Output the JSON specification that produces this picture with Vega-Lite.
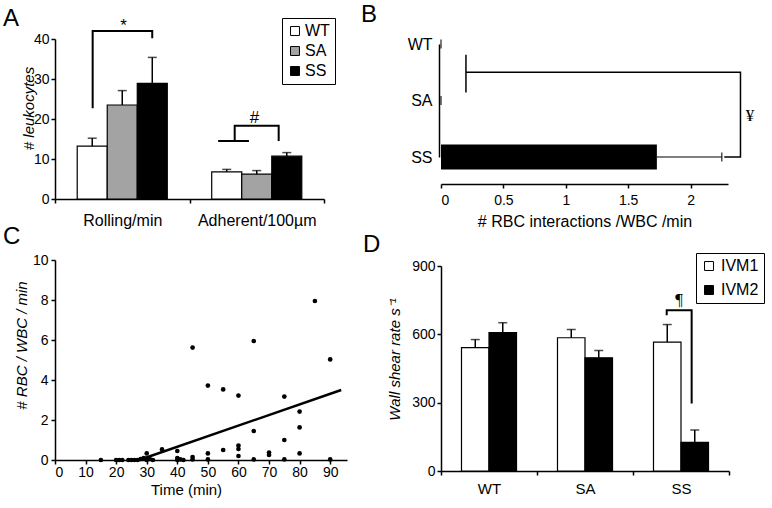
{
  "$schema": "https://vega.github.io/schema/vega-lite/v6.json",
  "padding": {"left": 3, "top": 2, "right": 2, "bottom": 2},
  "background": "white",
  "config": {
    "font": "Liberation Sans",
    "view": {"stroke": null},
    "axis": {"domainColor": "black", "domainWidth": 1.5, "tickColor": "black", "tickWidth": 1.5, "tickSize": 4, "labelColor": "black", "titleColor": "black", "titleFontWeight": "normal", "labelFont": "Liberation Sans", "titleFont": "Liberation Sans", "labelFontSize": 14, "titleFontSize": 15, "grid": false, "labelOverlap": false},
    "title": {"fontSize": 24, "fontWeight": "normal", "anchor": "start", "frame": "group", "font": "Liberation Sans", "color": "black"}
  },
  "datasets": {
    "leuko": [
      {"measure": "Rolling/min", "genotype": "WT", "mean": 13.2, "hi": 15.2},
      {"measure": "Rolling/min", "genotype": "SA", "mean": 23.5, "hi": 27.1},
      {"measure": "Rolling/min", "genotype": "SS", "mean": 28.9, "hi": 35.4},
      {"measure": "Adherent/100µm", "genotype": "WT", "mean": 6.8, "hi": 7.4},
      {"measure": "Adherent/100µm", "genotype": "SA", "mean": 6.2, "hi": 7.1},
      {"measure": "Adherent/100µm", "genotype": "SS", "mean": 10.7, "hi": 11.6}
    ],
    "leukoBrackets": [
      {"id": "star", "seq": 1, "measure": "Rolling/min", "f": 0.28, "v": 22.7},
      {"id": "star", "seq": 2, "measure": "Rolling/min", "f": 0.28, "v": 42},
      {"id": "star", "seq": 3, "measure": "Rolling/min", "f": 0.723, "v": 42},
      {"id": "star", "seq": 4, "measure": "Rolling/min", "f": 0.723, "v": 40.2},
      {"id": "hashbase", "seq": 1, "measure": "Adherent/100µm", "f": 0.213, "v": 14.5},
      {"id": "hashbase", "seq": 2, "measure": "Adherent/100µm", "f": 0.442, "v": 14.5},
      {"id": "hash", "seq": 1, "measure": "Adherent/100µm", "f": 0.336, "v": 14.5},
      {"id": "hash", "seq": 2, "measure": "Adherent/100µm", "f": 0.336, "v": 18.3},
      {"id": "hash", "seq": 3, "measure": "Adherent/100µm", "f": 0.663, "v": 18.3},
      {"id": "hash", "seq": 4, "measure": "Adherent/100µm", "f": 0.663, "v": 14.5}
    ],
    "leukoMarks": [
      {"label": "*", "measure": "Rolling/min", "f": 0.51, "v": 43.3},
      {"label": "#", "measure": "Adherent/100µm", "f": 0.483, "v": 20.2}
    ],
    "rbc": [
      {"genotype": "WT", "mean": 0, "hi": 0},
      {"genotype": "SA", "mean": 0, "hi": 0},
      {"genotype": "SS", "mean": 1.73, "hi": 2.25}
    ],
    "rbcBrackets": [
      {"id": "tick", "seq": 1, "x": 0.2, "c": 0.19},
      {"id": "tick", "seq": 2, "x": 0.2, "c": 0.86},
      {"id": "arm", "seq": 1, "x": 0.2, "c": 0.5},
      {"id": "arm", "seq": 2, "x": 2.4, "c": 0.5},
      {"id": "arm", "seq": 3, "x": 2.4, "c": 2},
      {"id": "arm", "seq": 4, "x": 2.27, "c": 2}
    ],
    "rbcMarks": [{"label": "¥", "x": 2.476, "c": 1.28}],
    "scatter": [
      {"t": 15, "r": 0}, {"t": 20, "r": 0}, {"t": 21, "r": 0}, {"t": 22, "r": 0},
      {"t": 24, "r": 0}, {"t": 25, "r": 0}, {"t": 26, "r": 0}, {"t": 27, "r": 0},
      {"t": 28, "r": 0.05}, {"t": 29, "r": 0.1}, {"t": 30, "r": 0.33}, {"t": 30, "r": 0},
      {"t": 31, "r": 0.05}, {"t": 32, "r": 0}, {"t": 35, "r": 0.53},
      {"t": 40, "r": 0.45}, {"t": 40, "r": 0.1}, {"t": 40, "r": 0}, {"t": 41, "r": 0.03}, {"t": 42, "r": 0},
      {"t": 45, "r": 5.62}, {"t": 45, "r": 0.15}, {"t": 45, "r": 0.03},
      {"t": 50, "r": 3.72}, {"t": 50, "r": 0.33}, {"t": 50, "r": 0.03},
      {"t": 55, "r": 3.53}, {"t": 55, "r": 0.5},
      {"t": 60, "r": 3.22}, {"t": 60, "r": 0.72}, {"t": 60, "r": 0.55}, {"t": 60, "r": 0.2},
      {"t": 65, "r": 5.95}, {"t": 65, "r": 1.45}, {"t": 65, "r": 0.03},
      {"t": 70, "r": 0.37}, {"t": 70, "r": 0.25},
      {"t": 75, "r": 3.17}, {"t": 75, "r": 1.0}, {"t": 75, "r": 0.03},
      {"t": 80, "r": 2.42}, {"t": 80, "r": 1.63}, {"t": 80, "r": 0.33},
      {"t": 85, "r": 7.95}, {"t": 90, "r": 5.03}, {"t": 90, "r": 0.03}
    ],
    "fit": [{"t": 27.5, "r": 0}, {"t": 93.6, "r": 3.5}],
    "shear": [
      {"genotype": "WT", "ivm": "IVM1", "mean": 542, "hi": 577},
      {"genotype": "WT", "ivm": "IVM2", "mean": 608, "hi": 651},
      {"genotype": "SA", "ivm": "IVM1", "mean": 585, "hi": 621},
      {"genotype": "SA", "ivm": "IVM2", "mean": 497, "hi": 529},
      {"genotype": "SS", "ivm": "IVM1", "mean": 566, "hi": 643},
      {"genotype": "SS", "ivm": "IVM2", "mean": 126, "hi": 180}
    ],
    "shearBracket": [
      {"seq": 1, "genotype": "SS", "f": 0.351, "v": 684},
      {"seq": 2, "genotype": "SS", "f": 0.351, "v": 706},
      {"seq": 3, "genotype": "SS", "f": 0.611, "v": 706},
      {"seq": 4, "genotype": "SS", "f": 0.611, "v": 296}
    ],
    "shearMarks": [{"label": "¶", "genotype": "SS", "f": 0.48, "v": 750}]
  },
  "bounds": "flush",
  "columns": 2,
  "spacing": {"row": 61, "column": 94},
  "resolve": {"scale": {"fill": "independent"}, "legend": {"fill": "independent"}},
  "concat": [
    {
      "width": 269,
      "height": 167,
      "title": {"text": "A", "dx": -52, "dy": 18},
      "resolve": {"scale": {"xOffset": "independent"}},
      "encoding": {
        "x": {"field": "measure", "type": "nominal", "scale": {"domain": ["Rolling/min", "Adherent/100µm"], "paddingInner": 0, "paddingOuter": 0}, "axis": {"title": null, "labelAngle": 0, "tickBand": "extent", "labelFontSize": 16, "labelPadding": 9}}
      },
      "layer": [
        {
          "data": {"name": "leuko"},
          "encoding": {
            "xOffset": {"field": "genotype", "type": "nominal", "scale": {"domain": ["WT", "SA", "SS"], "paddingInner": 0, "paddingOuter": 0.74}}
          },
          "layer": [
            {
              "mark": {"type": "bar", "stroke": "black", "strokeWidth": 1.2},
              "encoding": {
                "y": {"field": "mean", "type": "quantitative", "scale": {"domain": [0, 40], "range": [167, 7], "nice": false}, "axis": {"title": "# leukocytes", "titleFontStyle": "italic", "values": [0, 10, 20, 30, 40], "labelPadding": 2, "titleX": -27, "titleY": 76, "titleBaseline": "middle", "titleFontSize": 15}},
                "fill": {"field": "genotype", "type": "nominal", "scale": {"domain": ["WT", "SA", "SS"], "range": ["white", "#a3a3a3", "black"]}, "legend": {"title": null, "orient": "none", "legendX": 227, "legendY": -14, "strokeColor": "black", "padding": 5, "symbolType": "square", "symbolSize": 80, "symbolStrokeColor": "black", "symbolStrokeWidth": 1, "labelFontSize": 16, "labelOffset": 2, "rowPadding": 4, "labelColor": "black"}}
              }
            },
            {
              "mark": {"type": "rule", "strokeWidth": 1.5, "color": "black"},
              "encoding": {"y": {"field": "mean", "type": "quantitative"}, "y2": {"field": "hi"}}
            },
            {
              "mark": {"type": "tick", "orient": "horizontal", "size": 9, "thickness": 1.5, "color": "black"},
              "encoding": {"y": {"field": "hi", "type": "quantitative"}}
            }
          ]
        },
        {
          "data": {"name": "leukoBrackets"},
          "mark": {"type": "line", "color": "black", "strokeWidth": 2},
          "encoding": {
            "xOffset": {"field": "f", "type": "quantitative", "scale": {"domain": [0, 1], "nice": false, "zero": false}},
            "y": {"field": "v", "type": "quantitative"},
            "detail": {"field": "id"},
            "order": {"field": "seq"}
          }
        },
        {
          "data": {"name": "leukoMarks"},
          "mark": {"type": "text", "fontSize": 17, "baseline": "middle", "color": "black"},
          "encoding": {
            "xOffset": {"field": "f", "type": "quantitative", "scale": {"domain": [0, 1], "nice": false, "zero": false}},
            "y": {"field": "v", "type": "quantitative"},
            "text": {"field": "label"}
          }
        }
      ]
    },
    {
      "width": 287,
      "height": 152,
      "title": {"text": "B", "dx": -80, "dy": -1},
      "resolve": {"scale": {"y": "independent"}},
      "layer": [
        {
          "data": {"name": "rbc"},
          "encoding": {
            "y": {"field": "genotype", "type": "nominal", "scale": {"type": "point", "domain": ["WT", "SA", "SS"], "range": [12, 125], "padding": 0}, "axis": {"title": null, "ticks": false, "labelPadding": 7, "labelFontSize": 16, "offset": 2}},
            "x": {"type": "quantitative"}
          },
          "layer": [
            {
              "mark": {"type": "bar", "fill": "black", "height": 25},
              "encoding": {"x": {"field": "mean", "type": "quantitative", "scale": {"domain": [0, 2.3], "nice": false}, "axis": {"title": "# RBC interactions /WBC /min", "values": [0, 0.5, 1, 1.5, 2], "labelExpr": "datum.value + ''", "labelPadding": 5, "titleFontSize": 16, "titlePadding": 6}}}
            },
            {
              "mark": {"type": "rule", "strokeWidth": 1.2, "color": "black"},
              "encoding": {"x": {"field": "mean", "type": "quantitative"}, "x2": {"field": "hi"}}
            },
            {
              "mark": {"type": "tick", "orient": "vertical", "size": 9, "thickness": 1.5, "color": "black"},
              "encoding": {"x": {"field": "hi", "type": "quantitative"}}
            }
          ]
        },
        {
          "layer": [
            {
              "data": {"name": "rbcBrackets"},
              "mark": {"type": "line", "color": "black", "strokeWidth": 1.5},
              "encoding": {
                "x": {"field": "x", "type": "quantitative"},
                "y": {"field": "c", "type": "quantitative", "scale": {"domain": [0, 2], "range": [12, 125], "nice": false, "zero": false}, "axis": null},
                "detail": {"field": "id"},
                "order": {"field": "seq"}
              }
            },
            {
              "data": {"name": "rbcMarks"},
              "mark": {"type": "text", "fontSize": 17, "font": "Liberation Serif", "baseline": "middle", "color": "black"},
              "encoding": {
                "x": {"field": "x", "type": "quantitative"},
                "y": {"field": "c", "type": "quantitative"},
                "text": {"field": "label"}
              }
            }
          ]
        }
      ]
    },
    {
      "width": 292,
      "height": 200,
      "title": {"text": "C", "dx": -52, "dy": 0},
      "encoding": {
        "x": {"field": "t", "type": "quantitative", "scale": {"domain": [0, 95.5], "nice": false}, "axis": {"title": "Time (min)", "values": [0, 10, 20, 30, 40, 50, 60, 70, 80, 90], "labelOverlap": false, "labelPadding": 1, "titleX": 131, "titlePadding": 3}},
        "y": {"field": "r", "type": "quantitative", "scale": {"domain": [0, 10], "nice": false}, "axis": {"title": "# RBC / WBC / min", "titleFontStyle": "italic", "values": [0, 2, 4, 6, 8, 10], "labelOverlap": false, "labelPadding": 3, "titleX": -34, "titleY": 85, "titleBaseline": "middle"}}
      },
      "layer": [
        {
          "data": {"name": "scatter"},
          "mark": {"type": "circle", "size": 22, "color": "black", "opacity": 1}
        },
        {
          "data": {"name": "fit"},
          "mark": {"type": "line", "color": "black", "strokeWidth": 2.5}
        }
      ]
    },
    {
      "width": 288,
      "height": 211,
      "title": {"text": "D", "dx": -78, "dy": 8},
      "resolve": {"scale": {"xOffset": "independent"}},
      "encoding": {
        "x": {"field": "genotype", "type": "nominal", "scale": {"domain": ["WT", "SA", "SS"], "paddingInner": 0, "paddingOuter": 0}, "axis": {"title": null, "labelAngle": 0, "tickBand": "extent", "labelFontSize": 15, "labelPadding": 6}}
      },
      "layer": [
        {
          "data": {"name": "shear"},
          "encoding": {
            "xOffset": {"field": "ivm", "type": "nominal", "scale": {"domain": ["IVM1", "IVM2"], "paddingInner": 0, "paddingOuter": 0.745}}
          },
          "layer": [
            {
              "mark": {"type": "bar", "stroke": "black", "strokeWidth": 1.2},
              "encoding": {
                "y": {"field": "mean", "type": "quantitative", "scale": {"domain": [0, 900], "range": [211, 6], "nice": false}, "axis": {"title": "Wall shear rate s⁻¹", "titleFontStyle": "italic", "values": [0, 300, 600, 900], "labelPadding": 2, "titleX": -47, "titleY": 99, "titleBaseline": "middle", "titleFontSize": 15}},
                "fill": {"field": "ivm", "type": "nominal", "scale": {"domain": ["IVM1", "IVM2"], "range": ["white", "black"]}, "legend": {"title": null, "orient": "none", "legendX": 255, "legendY": -7, "strokeColor": "black", "padding": 5, "symbolType": "square", "symbolSize": 80, "symbolStrokeColor": "black", "symbolStrokeWidth": 1, "labelFontSize": 16, "labelOffset": 4, "rowPadding": 8, "labelColor": "black"}}
              }
            },
            {
              "mark": {"type": "rule", "strokeWidth": 1.5, "color": "black"},
              "encoding": {"y": {"field": "mean", "type": "quantitative"}, "y2": {"field": "hi"}}
            },
            {
              "mark": {"type": "tick", "orient": "horizontal", "size": 9, "thickness": 1.5, "color": "black"},
              "encoding": {"y": {"field": "hi", "type": "quantitative"}}
            }
          ]
        },
        {
          "data": {"name": "shearBracket"},
          "mark": {"type": "line", "color": "black", "strokeWidth": 2},
          "encoding": {
            "xOffset": {"field": "f", "type": "quantitative", "scale": {"domain": [0, 1], "nice": false, "zero": false}},
            "y": {"field": "v", "type": "quantitative"},
            "order": {"field": "seq"}
          }
        },
        {
          "data": {"name": "shearMarks"},
          "mark": {"type": "text", "fontSize": 17, "font": "Liberation Serif", "baseline": "middle", "color": "black"},
          "encoding": {
            "xOffset": {"field": "f", "type": "quantitative", "scale": {"domain": [0, 1], "nice": false, "zero": false}},
            "y": {"field": "v", "type": "quantitative"},
            "text": {"field": "label"}
          }
        }
      ]
    }
  ]
}
